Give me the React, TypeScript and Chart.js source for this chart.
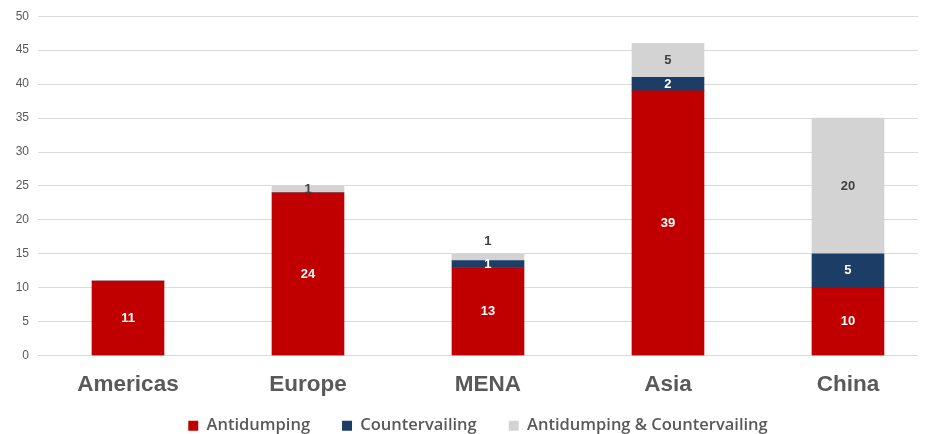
import React, { useEffect, useRef } from "react";
import { Chart, registerables } from "chart.js";

Chart.register(...registerables);

const categories = ["Americas", "Europe", "MENA", "Asia", "China"];
const antidumping = [11, 24, 13, 39, 10];
const countervailing = [0, 0, 1, 2, 5];
const both = [0, 1, 1, 5, 20];
const yTicks = [0, 5, 10, 15, 20, 25, 30, 35, 40, 45, 50];

const seriesNames = ["Antidumping", "Countervailing", "Antidumping & Countervailing"];
const seriesColors = ["#C00000", "#1B3D66", "#D3D3D3"];
const labelColors = ["#FFFFFF", "#FFFFFF", "#404040"];

const labelPlugin = {
  id: "segLabels",
  afterLayout(chart: any) {
    // let the category labels extend below the axis box without clipping
    if (chart.scales.x) chart.scales.x.bottom = chart.height;
  },
  afterDatasetsDraw(chart: any) {
    const ctx = chart.ctx;
    ctx.save();
    ctx.font = "bold 13px 'Liberation Sans', Arial, sans-serif";
    ctx.textAlign = "center";
    ctx.textBaseline = "middle";
    const lastY: Record<number, number> = {};
    chart.data.datasets.forEach((ds: any, di: number) => {
      const meta = chart.getDatasetMeta(di);
      meta.data.forEach((el: any, i: number) => {
        const v = ds.data[i].y;
        if (!v) return;
        const top = Math.min(el.y, el.base);
        const bottom = Math.max(el.y, el.base);
        let y = (top + bottom) / 2;
        if (lastY[i] !== undefined && lastY[i] - y < 11) {
          y = top - 12;
        }
        lastY[i] = y;
        ctx.fillStyle = labelColors[di];
        ctx.fillText(String(v), el.x, y);
      });
    });
    ctx.restore();
  },
};

export default function App() {
  const ref = useRef<HTMLCanvasElement>(null);
  useEffect(() => {
    document.body.style.margin = "0";
    const datasets = [antidumping, countervailing, both].map((arr, k) => ({
      label: seriesNames[k],
      data: arr.map((v, i) => ({ x: i, y: v })),
      backgroundColor: seriesColors[k],
      barThickness: 72,
      borderWidth: 0,
    }));
    const chart = new Chart(ref.current as HTMLCanvasElement, {
      type: "bar",
      data: { datasets },
      plugins: [labelPlugin],
      options: {
        animation: false,
        responsive: false,
        maintainAspectRatio: false,
        layout: { padding: { top: 14, right: 9, left: 0, bottom: -10 } },
        plugins: {
          tooltip: { enabled: false },
          legend: {
            position: "bottom",
            fullSize: false,
            labels: {
              boxWidth: 10,
              boxHeight: 10,
              padding: 32,
              color: "#595959",
              font: { family: "'Open Sans', sans-serif", size: 16.5, weight: "600" },
            },
          },
        },
        scales: {
          x: {
            type: "linear",
            stacked: true,
            offset: false,
            min: -0.5,
            max: 4.389,
            grid: { display: false },
            border: { display: false },
            afterBuildTicks: (scale: any) => {
              scale.ticks = categories.map((_, i) => ({ value: i }));
            },
            afterFit: (scale: any) => {
              scale.height = 29.75;
            },
            ticks: {
              autoSkip: false,
              maxRotation: 0,
              padding: 7.5,
              color: "#595959",
              font: { family: "'Liberation Sans', Arial, sans-serif", size: 22.5, weight: "bold" },
              callback: (v: any) => categories[Math.round(Number(v))] ?? "",
            },
          },
          y: {
            stacked: true,
            min: 0,
            max: 50,
            afterBuildTicks: (scale: any) => {
              scale.ticks = yTicks.map((v) => ({ value: v }));
            },
            afterFit: (scale: any) => {
              scale.width = 38;
            },
            grid: { color: "#D9D9D9", drawTicks: false },
            border: { display: false },
            ticks: {
              padding: 9,
              color: "#595959",
              font: { family: "'Liberation Sans', Arial, sans-serif", size: 12 },
            },
          },
        },
      },
    } as any);
    return () => chart.destroy();
  }, []);
  return <canvas ref={ref} width={927} height={434} style={{ display: "block" }} />;
}
